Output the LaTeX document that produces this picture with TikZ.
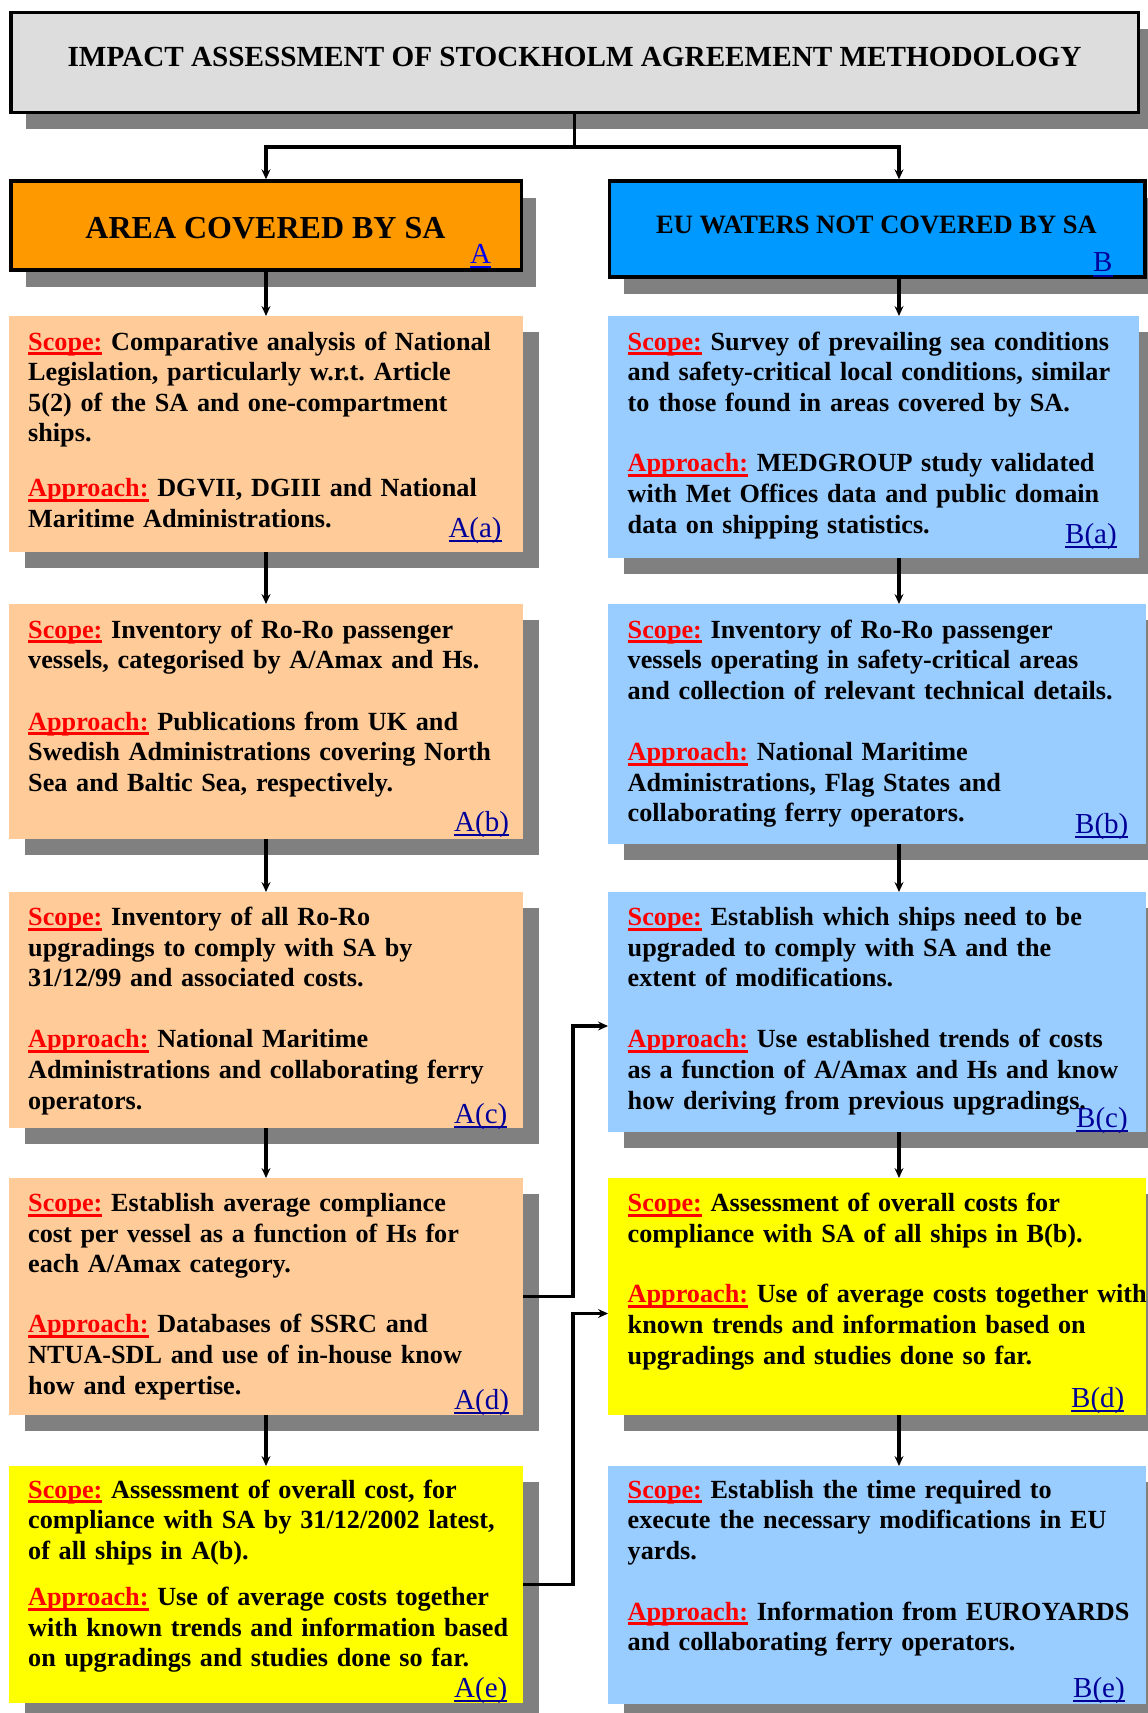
\documentclass[tikz,border=0pt]{standalone}
\usepackage{fontspec}
\setmainfont{Liberation Serif}
\usetikzlibrary{arrows.meta,shadows,calc}
\definecolor{peach}{HTML}{FFCC99}
\definecolor{skyb}{HTML}{99CCFF}
\definecolor{yel}{HTML}{FFFF00}
\definecolor{orng}{HTML}{FF9900}
\definecolor{azure}{HTML}{0099FF}
\definecolor{titlegray}{HTML}{DDDDDD}
\definecolor{shad}{HTML}{808080}
\definecolor{scopered}{HTML}{FF0000}
\definecolor{navy}{HTML}{000099}
\definecolor{linkblue}{HTML}{0000EE}
\frenchspacing
\newsavebox\ulbox
\newcommand\ulred[1]{\leavevmode\sbox\ulbox{\color{scopered}#1}{\color{scopered}\rlap{\rule[-5pt]{\wd\ulbox}{3pt}}}\usebox\ulbox}
\newcommand\scp{\ulred{Scope:} }
\newcommand\apr{\ulred{Approach:} }
\newcommand\lnk[2][navy]{\leavevmode\sbox\ulbox{\color{#1}#2}{\color{#1}\rlap{\rule[-5pt]{\wd\ulbox}{2pt}}}\usebox\ulbox}
\tikzset{
  shadowed/.style={drop shadow={shadow xshift=16pt, shadow yshift=-16pt, opacity=1, fill=shad}},
  hshadowed/.style={drop shadow={shadow xshift=15pt, shadow yshift=-17pt, opacity=1, fill=shad}},
  cbox/.style={shadowed, inner sep=0pt, outer sep=0pt, anchor=north west},
  headbox/.style={hshadowed, draw=black, line width=3.5pt, inner sep=0pt, anchor=north west},
  body/.style={font=\fontsize{26.2pt}{30.6pt}\selectfont\bfseries, text width=620pt, align=left, inner sep=0pt, anchor=base west},
  lab/.style={font=\fontsize{29pt}{33pt}\selectfont, inner sep=0pt, anchor=base west},
  conn/.style={line width=3.1pt, draw=black},
  arr/.style={conn, -{Stealth[length=10pt,width=9pt,inset=3.5pt]}},
}
\begin{document}
\begin{tikzpicture}[x=1pt,y=-1pt]
\useasboundingbox (0,0) rectangle (1148,1713);
\fill[white] (0,0) rectangle (1148,1713);
% header boxes
\node[headbox, fill=titlegray, minimum width=1127.5pt, minimum height=99.8pt] (title) at (9,10.7) {};
\node[headbox, fill=orng, minimum width=510.5pt, minimum height=88.9pt] (A) at (9,179.3) {};
\node[headbox, fill=azure, minimum width=535.4pt, minimum height=95.9pt] (B) at (607.6,179.3) {};
\node[font=\fontsize{29.2pt}{34pt}\selectfont\bfseries, inner sep=0pt, anchor=base] (titletext) at (574.5,66.7) {IMPACT ASSESSMENT OF STOCKHOLM AGREEMENT METHODOLOGY};
\node[font=\fontsize{32pt}{37pt}\selectfont\bfseries, inner sep=0pt, anchor=base] (Atext) at (265.5,238) {AREA COVERED BY SA};
\node[font=\fontsize{26.5pt}{30.6pt}\selectfont\bfseries, inner sep=0pt, anchor=base] (Btext) at (876.5,233.3) {EU WATERS NOT COVERED BY SA};
\node[lab] (Alab) at (470,263) {\lnk[linkblue]{A}};
\node[lab] (Blab) at (1093,271.7) {\lnk{B}};
% content boxes
\node[cbox, fill=peach, minimum width=514pt, minimum height=236pt] (Aa) at (9,316) {};
\node[cbox, fill=skyb, minimum width=531pt, minimum height=242pt] (Ba) at (608,316) {};
\node[cbox, fill=peach, minimum width=514pt, minimum height=235pt] (Ab) at (9,604) {};
\node[cbox, fill=skyb, minimum width=538pt, minimum height=240pt] (Bb) at (608,604) {};
\node[cbox, fill=peach, minimum width=514pt, minimum height=236pt] (Ac) at (9,892) {};
\node[cbox, fill=skyb, minimum width=538pt, minimum height=240pt] (Bc) at (608,892) {};
\node[cbox, fill=peach, minimum width=514pt, minimum height=237pt] (Ad) at (9,1178) {};
\node[cbox, fill=yel, minimum width=538pt, minimum height=237pt] (Bd) at (608,1178) {};
\node[cbox, fill=yel, minimum width=514pt, minimum height=237pt] (Ae) at (9,1466) {};
\node[cbox, fill=skyb, minimum width=538pt, minimum height=238pt] (Be) at (608,1466) {};
% texts
\node[body] (Aat) at (28,350) {\scp Comparative analysis of National\\Legislation, particularly w.r.t. Article\\5(2) of the SA and one-compartment\\ships.\\[24.4pt]\apr DGVII, DGIII and National\\Maritime Administrations.};
\node[body] (Bat) at (627.5,350) {\scp Survey of prevailing sea conditions\\and safety-critical local conditions, similar\\to those found in areas covered by SA.\\[30.1pt]\apr MEDGROUP study validated\\with Met Offices data and public domain\\data on shipping statistics.};
\node[body] (Abt) at (28,638.3) {\scp Inventory of Ro-Ro passenger\\vessels, categorised by A/Amax and Hs.\\[30.6pt]\apr Publications from UK and\\Swedish Administrations covering North\\Sea and Baltic Sea, respectively.};
\node[body] (Bbt) at (627.5,638.3) {\scp Inventory of Ro-Ro passenger\\vessels operating in safety-critical areas\\and collection of relevant technical details.\\[30.6pt]\apr National Maritime\\Administrations, Flag States and\\collaborating ferry operators.};
\node[body] (Act) at (28,925.5) {\scp Inventory of all Ro-Ro\\upgradings to comply with SA by\\31/12/99 and associated costs.\\[30.6pt]\apr National Maritime\\Administrations and collaborating ferry\\operators.};
\node[body] (Bct) at (627.5,925.5) {\scp Establish which ships need to be\\upgraded to comply with SA and the\\extent of modifications.\\[30.6pt]\apr Use established trends of costs\\as a function of A/Amax and Hs and know\\how deriving from previous upgradings.};
\node[body] (Adt) at (28,1211.7) {\scp Establish average compliance\\cost per vessel as a function of Hs for\\each A/Amax category.\\[29.4pt]\apr Databases of SSRC and\\NTUA-SDL and use of in-house know\\how and expertise.};
\node[body] (Bdt) at (627.5,1211.7) {\scp Assessment of overall costs for\\compliance with SA of all ships in B(b).\\[30pt]\apr Use of average costs together with\\known trends and information based on\\upgradings and studies done so far.};
\node[body] (Aet) at (28,1498.3) {\scp Assessment of overall cost, for\\compliance with SA by 31/12/2002 latest,\\of all ships in A(b).\\[15.4pt]\apr Use of average costs together\\with known trends and information based\\on upgradings and studies done so far.};
\node[body] (Bet) at (627.5,1498.3) {\scp Establish the time required to\\execute the necessary modifications in EU\\yards.\\[30pt]\apr Information from EUROYARDS\\and collaborating ferry operators.};
% labels
\node[lab] (Aal) at (448.3,537) {\lnk{A(a)}};
\node[lab] (Bal) at (1065,543) {\lnk{B(a)}};
\node[lab] (Abl) at (454,831) {\lnk{A(b)}};
\node[lab] (Bbl) at (1075,833) {\lnk{B(b)}};
\node[lab] (Acl) at (454,1123) {\lnk{A(c)}};
\node[lab] (Bcl) at (1076,1127) {\lnk{B(c)}};
\node[lab] (Adl) at (454,1409) {\lnk{A(d)}};
\node[lab] (Bdl) at (1071,1407) {\lnk{B(d)}};
\node[lab] (Ael) at (454,1697) {\lnk{A(e)}};
\node[lab] (Bel) at (1073,1697) {\lnk{B(e)}};
% connectors
\coordinate (bcol) at (899,0);
\coordinate (mx) at (573,0);
\draw[conn] (title.south) -- ++(0,33) coordinate (split);
\draw[arr] (split) -| (A.north);
\draw[arr] (split) -| (bcol |- B.north);
\draw[arr] (A.south) -- (Aa.north);
\draw[arr] (Aa.south) -- (Ab.north);
\draw[arr] (Ab.south) -- (Ac.north);
\draw[arr] (Ac.south) -- (Ad.north);
\draw[arr] (Ad.south) -- (Ae.north);
\draw[arr] (bcol |- B.south) -- (bcol |- Ba.north);
\draw[arr] (bcol |- Ba.south) -- (bcol |- Bb.north);
\draw[arr] (bcol |- Bb.south) -- (bcol |- Bc.north);
\draw[arr] (bcol |- Bc.south) -- (bcol |- Bd.north);
\draw[arr] (bcol |- Bd.south) -- (bcol |- Be.north);
\draw[arr] (Ad.east) -- (mx |- Ad.east) |- ([yshift=-14pt]Bc.west);
\draw[arr] (Ae.east) -- (mx |- Ae.east) |- ([yshift=-17pt]Bd.west);
\end{tikzpicture}
\end{document}
